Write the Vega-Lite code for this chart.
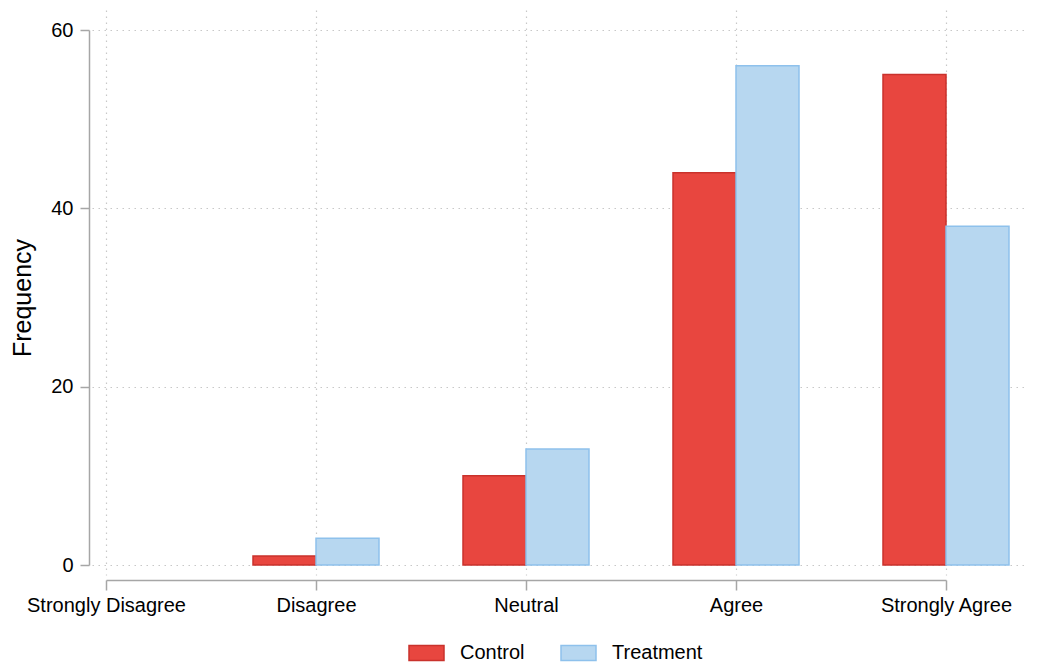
{
  "$schema": "https://vega.github.io/schema/vega-lite/v6.json",
  "autosize": {"type": "none"},
  "padding": {"left": 92, "top": 10, "right": 12, "bottom": 94},
  "width": 934,
  "height": 565,
  "background": "white",
  "config": {"font": "Liberation Sans", "view": {"stroke": null}},
  "data": {
    "values": [
      {"code": 1, "response": "Strongly Disagree", "group": "Control", "freq": 0},
      {"code": 1, "response": "Strongly Disagree", "group": "Treatment", "freq": 0},
      {"code": 2, "response": "Disagree", "group": "Control", "freq": 1},
      {"code": 2, "response": "Disagree", "group": "Treatment", "freq": 3},
      {"code": 3, "response": "Neutral", "group": "Control", "freq": 10},
      {"code": 3, "response": "Neutral", "group": "Treatment", "freq": 13},
      {"code": 4, "response": "Agree", "group": "Control", "freq": 44},
      {"code": 4, "response": "Agree", "group": "Treatment", "freq": 56},
      {"code": 5, "response": "Strongly Agree", "group": "Control", "freq": 55},
      {"code": 5, "response": "Strongly Agree", "group": "Treatment", "freq": 38}
    ]
  },
  "layer": [
    {
      "mark": {"type": "point", "opacity": 0},
      "encoding": {
        "x": {
          "field": "code",
          "type": "quantitative",
          "scale": {"domain": [0.93333, 5.38095], "nice": false, "zero": false},
          "axis": {
            "orient": "bottom",
            "title": null,
            "values": [1, 2, 3, 4, 5],
            "grid": true,
            "domain": false,
            "ticks": false,
            "labels": false,
            "gridColor": "#c8c8c8",
            "gridDash": [1.5, 4.5],
            "gridWidth": 1.2
          }
        },
        "y": {
          "field": "freq",
          "type": "quantitative",
          "scale": {"domain": [-1.1215, 62.243], "nice": false, "zero": false},
          "axis": {
            "orient": "left",
            "title": null,
            "values": [0, 20, 40, 60],
            "grid": true,
            "domain": false,
            "ticks": false,
            "labels": false,
            "gridColor": "#c8c8c8",
            "gridDash": [1.5, 4.5],
            "gridWidth": 1.2
          }
        }
      }
    },
    {
      "mark": {"type": "point", "opacity": 0},
      "encoding": {
        "x": {
          "field": "code",
          "type": "quantitative",
          "scale": {"domain": [1, 5], "range": [14, 854], "nice": false, "zero": false},
          "axis": {
            "orient": "bottom",
            "title": null,
            "values": [1, 2, 3, 4, 5],
            "labelExpr": "['', 'Strongly Disagree', 'Disagree', 'Neutral', 'Agree', 'Strongly Agree'][datum.value]",
            "grid": false,
            "offset": 5,
            "domainColor": "#a6a6a6",
            "domainWidth": 1.5,
            "tickColor": "#a6a6a6",
            "tickWidth": 1.5,
            "tickSize": 10,
            "labelFontSize": 20,
            "labelColor": "black",
            "labelPadding": 5,
            "labelOverlap": false,
            "labelFlush": false
          }
        },
        "y": {
          "field": "freq",
          "type": "quantitative",
          "scale": {"domain": [0, 60], "range": [555, 20], "nice": false, "zero": false},
          "axis": {
            "orient": "left",
            "title": "Frequency",
            "values": [0, 20, 40, 60],
            "grid": false,
            "offset": 3,
            "domainColor": "#a6a6a6",
            "domainWidth": 1.5,
            "tickColor": "#a6a6a6",
            "tickWidth": 1.5,
            "tickSize": 9,
            "labelFontSize": 20,
            "labelColor": "black",
            "labelPadding": 7,
            "titleFontSize": 25,
            "titleFontWeight": "normal",
            "titleColor": "black",
            "titlePadding": 15
          }
        }
      }
    },
    {
      "transform": [{"filter": "datum.freq > 0"}],
      "mark": {"type": "bar", "strokeWidth": 1.5},
      "encoding": {
        "x": {
          "field": "response",
          "type": "ordinal",
          "sort": ["Strongly Disagree", "Disagree", "Neutral", "Agree", "Strongly Agree"],
          "scale": {
            "domain": ["Strongly Disagree", "Disagree", "Neutral", "Agree", "Strongly Agree"],
            "range": [-49, 917],
            "paddingInner": 0.4,
            "paddingOuter": 0
          },
          "axis": null
        },
        "xOffset": {
          "field": "group",
          "type": "nominal",
          "sort": ["Control", "Treatment"],
          "scale": {"domain": ["Control", "Treatment"], "paddingInner": 0, "paddingOuter": 0}
        },
        "y": {
          "field": "freq",
          "type": "quantitative",
          "scale": {"domain": [0, 60], "range": [555, 20], "nice": false, "zero": false},
          "axis": null
        },
        "fill": {
          "field": "group",
          "type": "nominal",
          "scale": {"domain": ["Control", "Treatment"], "range": ["#E8463F", "#B7D7F0"]},
          "legend": {
            "title": null,
            "orient": "none",
            "legendX": 316,
            "legendY": 624,
            "direction": "horizontal",
            "symbolType": "M-1,-0.43H1V0.43H-1Z",
            "symbolSize": 1225,
            "symbolStrokeWidth": 1.5,
            "labelFontSize": 20,
            "labelColor": "black",
            "columnPadding": 33,
            "labelOffset": 15
          }
        },
        "stroke": {
          "field": "group",
          "type": "nominal",
          "scale": {"domain": ["Control", "Treatment"], "range": ["#C9322C", "#8EC1EC"]},
          "legend": {
            "title": null,
            "orient": "none",
            "legendX": 316,
            "legendY": 624,
            "direction": "horizontal",
            "symbolType": "M-1,-0.43H1V0.43H-1Z",
            "symbolSize": 1225,
            "symbolStrokeWidth": 1.5,
            "labelFontSize": 20,
            "labelColor": "black",
            "columnPadding": 33,
            "labelOffset": 15
          }
        }
      }
    }
  ],
  "resolve": {
    "scale": {"x": "independent", "y": "independent"},
    "axis": {"x": "independent", "y": "independent"}
  }
}
